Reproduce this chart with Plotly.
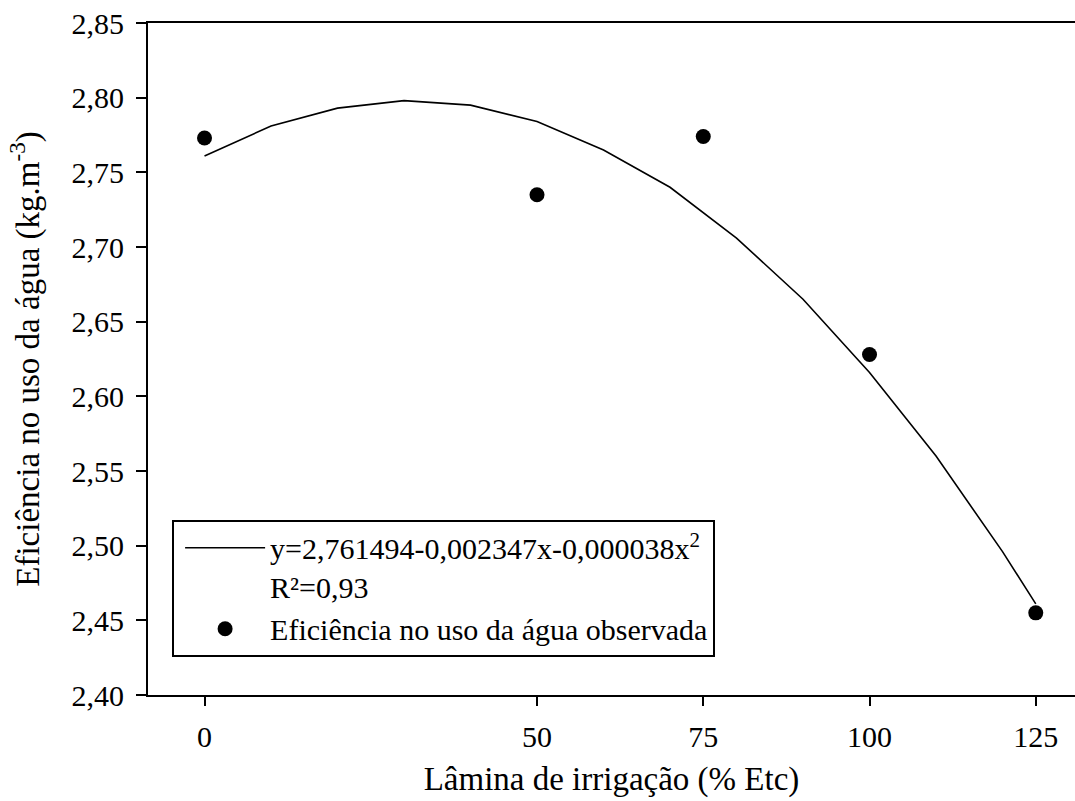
import plotly.graph_objects as go

# Irrigation depth (% ETc) and observed water-use efficiency (kg m-3)
lamina_obs = [0, 50, 75, 100, 125]
eficiencia_obs = [2.773, 2.735, 2.774, 2.628, 2.455]

# Fitted quadratic curve, sampled every 10 % ETc
lamina_fit = [0, 10, 20, 30, 40, 50, 60, 70, 80, 90, 100, 110, 120, 125]
eficiencia_fit = [2.761, 2.781, 2.793, 2.798, 2.795, 2.784, 2.765, 2.740,
                  2.706, 2.665, 2.616, 2.560, 2.496, 2.461]

x_ticks = [0, 50, 75, 100, 125]
y_ticks = [2.40, 2.45, 2.50, 2.55, 2.60, 2.65, 2.70, 2.75, 2.80, 2.85]

FONT = "Liberation Serif"
FS = 30        # tick labels and legend
FS_TITLE = 33  # axis titles

fig = go.Figure()

fig.add_trace(go.Scatter(
    x=lamina_fit, y=eficiencia_fit, mode="lines",
    line=dict(color="black", width=1.6),
    name="y=2,761494-0,002347x-0,000038x<sup>2</sup><br>R²=0,93",
))

fig.add_trace(go.Scatter(
    x=lamina_obs, y=eficiencia_obs, mode="markers",
    marker=dict(color="black", size=15, line=dict(width=0)),
    name="Eficiência no uso da água observada",
))

fig.update_layout(
    width=1075, height=801,
    margin=dict(l=148, r=0, t=23, b=106),
    plot_bgcolor="white", paper_bgcolor="white",
    separators=",.",
    font=dict(family=FONT, size=FS, color="black"),
    legend=dict(
        x=0.026, y=0.057, xanchor="left", yanchor="bottom",
        bordercolor="black", borderwidth=2, bgcolor="white",
        font=dict(family=FONT, size=FS, color="black"),
        valign="top", itemwidth=80, indentation=6,
        tracegroupgap=0,
    ),
    showlegend=True,
)

fig.update_xaxes(
    range=[-8.5, 130.9],
    tickvals=x_ticks, ticktext=[str(v) for v in x_ticks],
    ticks="outside", ticklen=9, tickwidth=2, tickcolor="black",
    ticklabelstandoff=5,
    showline=True, linecolor="black", linewidth=2, mirror=True,
    showgrid=False, zeroline=False,
    tickfont=dict(family=FONT, size=FS),
    title=dict(text="Lâmina de irrigação (% Etc)", standoff=15,
               font=dict(family=FONT, size=FS_TITLE)),
)

fig.update_yaxes(
    range=[2.40, 2.85],
    tickvals=y_ticks, tickformat=".2f",
    ticks="outside", ticklen=10, tickwidth=2, tickcolor="black",
    ticklabelstandoff=6,
    showline=True, linecolor="black", linewidth=2, mirror=False,
    showgrid=False, zeroline=False,
    tickfont=dict(family=FONT, size=FS),
    title=dict(text="Eficiência no uso da água (kg.m<sup>-3</sup>)", standoff=22,
               font=dict(family=FONT, size=FS_TITLE)),
)

fig.write_html("out.html")
